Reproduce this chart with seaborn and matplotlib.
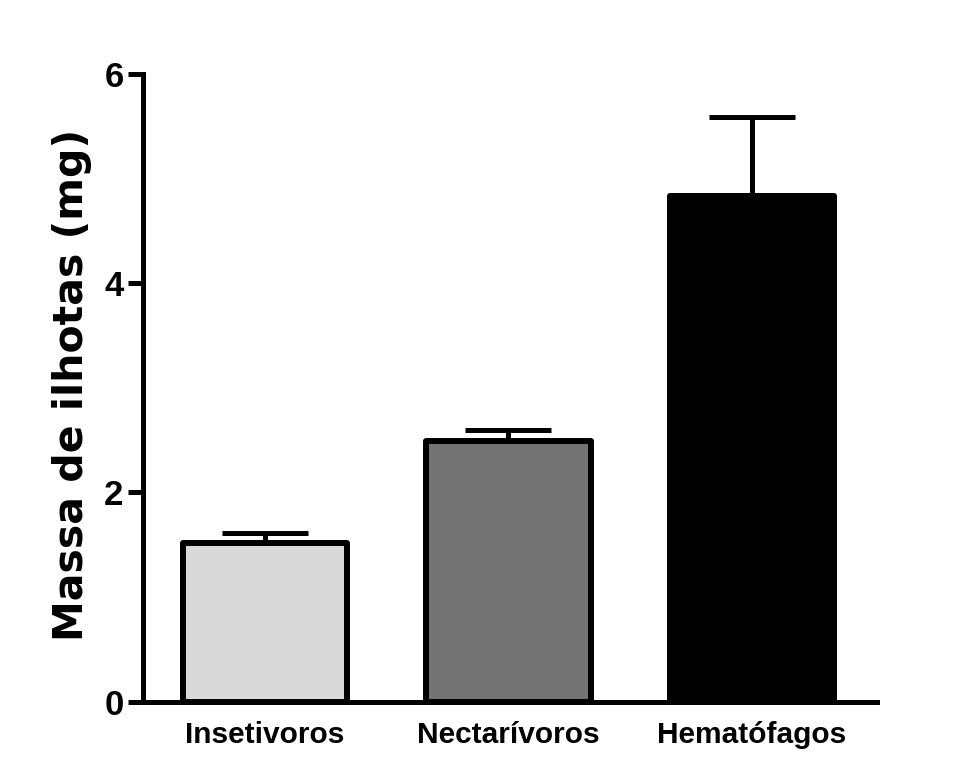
import matplotlib
matplotlib.use("Agg")
import matplotlib.pyplot as plt
import seaborn as sns
import pandas as pd

# Islet mass per feeding guild (mean + SEM)
categories = ["Insetivoros", "Nectarívoros", "Hematófagos"]
means = [1.52, 2.49, 4.83]
sems = [0.09, 0.11, 0.76]
bar_colors = ["#d9d9d9", "#737373", "#000000"]
y_ticks = [0, 2, 4, 6]

sns.set_theme(style="ticks")
plt.rcParams["font.family"] = ["Liberation Sans", "DejaVu Sans"]
plt.rcParams["font.weight"] = "bold"
for key in ["text.color", "axes.labelcolor", "xtick.color", "ytick.color"]:
    plt.rcParams[key] = "black"

df = pd.DataFrame({"grupo": categories, "massa": means})

fig = plt.figure(figsize=(9.6, 7.69), dpi=100)
ax = fig.add_axes([0.149, 0.0875, 0.7645, 0.8163])

sns.barplot(data=df, x="grupo", y="massa", hue="grupo", palette=bar_colors,
            order=categories, hue_order=categories, legend=False,
            width=0.675, edgecolor="black", linewidth=4.3, errorbar=None,
            ax=ax, zorder=3)
for p in ax.patches:
    p.set_joinstyle("round")

# upward-only SEM bars
eb = ax.errorbar(range(len(categories)), means, yerr=[[0] * len(sems), sems],
                 fmt="none", ecolor="black", elinewidth=3.6, capsize=31,
                 capthick=3.6, zorder=2)
for line in eb[1]:
    line.set_solid_capstyle("round")
for coll in eb[2]:
    coll.set_capstyle("round")

ax.set_xlim(-0.5, 2.513)
ax.set_ylim(0, 6)
ax.set_yticks(y_ticks)
ax.set_yticklabels([str(t) for t in y_ticks])

ax.set_xlabel("")
ax.set_ylabel("Massa de ilhotas (mg)", fontsize=29.5, fontweight="bold",
              family=["DejaVu Sans"])
ax.yaxis.set_label_coords(-0.069, 0.505)

sns.despine(ax=ax)
for s in ["left", "bottom"]:
    ax.spines[s].set_linewidth(3.6)
    ax.spines[s].set_color("black")
    ax.spines[s].set_capstyle("projecting")

ax.tick_params(axis="y", length=11, width=3.6, pad=3, labelsize=25, color="black")
ax.tick_params(axis="x", length=0, pad=14, labelsize=21.5)
for lbl in ax.get_xticklabels() + ax.get_yticklabels():
    lbl.set_fontweight("bold")

fig.savefig("out.png", dpi=100, facecolor="white")
